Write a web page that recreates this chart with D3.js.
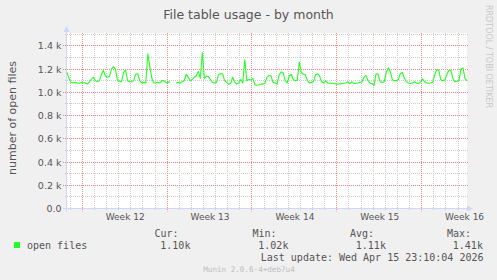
<!DOCTYPE html>
<html>
<head>
<meta charset="utf-8">
<script src="https://cdn.jsdelivr.net/npm/d3@7"></script>
<style>
   html, body { margin: 0; padding: 0; background: #f0f0f0; }
   svg { display: block; }
</style>
</head>
<body>
<div id="chart"></div>
<script>
var stepDays = 1 / 6;
var openFiles = [
   1170, 1120, 1085, 1080, 1085, 1080, 1078, 1085, 1080, 1082,
   1070, 1088, 1110, 1130, 1100, 1092, 1100, 1150, 1190, 1140,
   1130, 1135, 1200, 1220, 1200, 1100, 1095, 1090, 1170, 1190,
   1100, 1090, 1092, 1100, 1155, 1160, 1100, 1080, 1085, 1080,
   1330, 1220, 1120, 1080, 1082, 1085, 1080, 1100, 1100, 1080,
   1085, 1090, null, null, 1080, 1085, 1080, 1090, 1100, 1155,
   1130, 1100, 1110, 1130, 1140, 1180, 1120, 1340, 1120, 1140,
   1135, 1110, 1085, 1080, 1085, 1150, 1160, 1160, 1100, 1085,
   1070, 1075, 1130, 1090, 1070, 1080, 1110, 1080, 1280, 1100,
   1110, 1105, 1120, 1065, 1060, 1062, 1070, 1070, 1080, 1130,
   1145, 1140, 1085, 1080, 1070, 1150, 1175, 1170, 1100, 1080,
   1140, 1155, 1110, 1100, 1105, 1260, 1170, 1155, 1150, 1100,
   1080, 1085, 1090, 1150, 1160, 1140, 1090, 1080, 1100, 1080,
   1078, 1080, 1075, 1072, 1070, 1072, 1075, 1078, 1080, 1090,
   1075, 1090, 1075, 1078, 1080, 1085, 1090, 1130, 1145, 1100,
   1078, 1075, 1060, 1160, 1155, 1090, 1085, 1090, 1170, 1210,
   1180, 1110, 1100, 1100, 1110, 1160, 1170, 1120, 1090, 1080,
   1075, 1080, 1090, 1080, 1075, 1090, 1115, 1090, 1080, 1078,
   1080, 1085, 1150, 1195, 1190, 1110, 1100, 1105, 1150, 1190,
   1190, 1120, 1090, 1095, 1100, 1200, 1210, 1120, 1100
];

var yTickValues = [0, 200, 400, 600, 800, 1000, 1200, 1400];
var yTickLabels = ['0.0', '0.2 k', '0.4 k', '0.6 k', '0.8 k', '1.0 k', '1.2 k', '1.4 k'];

// days since the left edge of the graph where each ISO week begins
var weekStarts = [1.26, 8.26, 15.26, 22.26, 29.26];
var weekLabels = ['Week 12', 'Week 13', 'Week 14', 'Week 15', 'Week 16'];

var statNames = ['Cur:', 'Min:', 'Avg:', 'Max:'];
var statValues = ['1.10k', '1.02k', '1.11k', '1.41k'];

var width = 497,
   height = 280;
var plot = { left: 67, top: 33, width: 400, height: 175.5 };
var spanDays = 33;

var fontColor = '#555';
var axisColor = '#cfd6f8';
var lineColor = '#22ff22';
var minorColor = '#cccccc';
var majorColor = '#f08484';
var sans = 'DejaVu Sans, sans-serif';
var mono = 'DejaVu Sans Mono, monospace';

var x = d3.scaleLinear()
   .domain([0, spanDays])
   .range([plot.left, plot.left + plot.width]);

var y = d3.scaleLinear()
   .domain([0, 1510])
   .range([plot.top + plot.height, plot.top]);

function snap(v) {
   return Math.floor(v) + 0.5;
}

var svg = d3.select('#chart').append('svg')
   .attr('width', width)
   .attr('height', height);

svg.append('rect')
   .attr('width', width)
   .attr('height', height)
   .attr('fill', '#f0f0f0');

svg.append('rect')
   .attr('x', plot.left)
   .attr('y', plot.top)
   .attr('width', plot.width)
   .attr('height', plot.height)
   .attr('fill', '#ffffff');

// title and side texts
svg.append('text')
   .attr('x', 248.5)
   .attr('y', 18.5)
   .attr('text-anchor', 'middle')
   .attr('font-family', sans)
   .attr('font-size', '12.5px')
   .attr('fill', fontColor)
   .text('File table usage - by month');

svg.append('text')
   .attr('transform', 'translate(15.5,118) rotate(-90)')
   .attr('text-anchor', 'middle')
   .attr('font-family', sans)
   .attr('font-size', '11px')
   .attr('fill', fontColor)
   .text('number of open files');

svg.append('text')
   .attr('transform', 'translate(486,56.5) rotate(90)')
   .attr('text-anchor', 'middle')
   .attr('font-family', sans)
   .attr('font-size', '8px')
   .attr('fill', '#c8c8c8')
   .text('RRDTOOL / TOBI OETIKER');

// grid, dotted like rrdtool draws it (1px on, 1px off)
var grid = svg.append('g')
   .attr('stroke-width', 1)
   .attr('stroke-dasharray', '1,1');

var minorDays = d3.range(0, spanDays).map(function(d) {
   return d + 0.26;
}).filter(function(d) {
   return !weekStarts.some(function(w) { return Math.abs(w - d) < 0.01; });
});

grid.selectAll('.vminor')
   .data(minorDays)
   .enter().append('line')
   .attr('x1', function(d) { return snap(x(d)); })
   .attr('x2', function(d) { return snap(x(d)); })
   .attr('y1', plot.top)
   .attr('y2', plot.top + plot.height + 2)
   .attr('stroke', minorColor);

var minorValues = d3.range(100, 1600, 200);

grid.selectAll('.hminor')
   .data(minorValues)
   .enter().append('line')
   .attr('x1', plot.left - 2)
   .attr('x2', plot.left + plot.width + 2)
   .attr('y1', function(d) { return snap(y(d)); })
   .attr('y2', function(d) { return snap(y(d)); })
   .attr('stroke', minorColor);

grid.selectAll('.vmajor')
   .data(weekStarts)
   .enter().append('line')
   .attr('x1', function(d) { return snap(x(d)); })
   .attr('x2', function(d) { return snap(x(d)); })
   .attr('y1', plot.top)
   .attr('y2', plot.top + plot.height + 3)
   .attr('stroke', majorColor);

grid.selectAll('.hmajor')
   .data(yTickValues.slice(1))
   .enter().append('line')
   .attr('x1', plot.left - 4)
   .attr('x2', plot.left + plot.width + 2)
   .attr('y1', function(d) { return snap(y(d)); })
   .attr('y2', function(d) { return snap(y(d)); })
   .attr('stroke', majorColor);

// axes labels
var yAxis = svg.append('g')
   .attr('transform', 'translate(' + (plot.left - 0.5) + ',0)')
   .call(d3.axisLeft(y)
      .tickValues(yTickValues)
      .tickFormat(function(d, i) { return yTickLabels[i]; })
      .tickSize(0)
      .tickPadding(5));
yAxis.select('.domain').remove();
yAxis.selectAll('text')
   .attr('font-family', sans)
   .attr('font-size', '9.5px')
   .attr('fill', fontColor);

var xAxis = svg.append('g')
   .attr('transform', 'translate(0,' + (plot.top + plot.height) + ')')
   .call(d3.axisBottom(x)
      .tickValues(weekStarts.map(function(d) { return d + 3.5; }))
      .tickFormat(function(d, i) { return weekLabels[i]; })
      .tickSize(0)
      .tickPadding(5));
xAxis.select('.domain').remove();
xAxis.selectAll('text')
   .attr('font-family', sans)
   .attr('font-size', '9px')
   .attr('fill', fontColor);

// axis lines with arrows
var axisY0 = snap(y(0));
svg.append('line')
   .attr('x1', plot.left - 4)
   .attr('x2', plot.left + plot.width + 1)
   .attr('y1', axisY0)
   .attr('y2', axisY0)
   .attr('stroke', axisColor)
   .attr('shape-rendering', 'crispEdges');

svg.append('line')
   .attr('x1', plot.left - 0.5)
   .attr('x2', plot.left - 0.5)
   .attr('y1', axisY0 + 3)
   .attr('y2', plot.top - 4)
   .attr('stroke', axisColor)
   .attr('shape-rendering', 'crispEdges');

svg.append('path')
   .attr('d', 'M' + (plot.left - 3.5) + ',' + (plot.top - 1) +
      'L' + (plot.left + 2.5) + ',' + (plot.top - 1) +
      'L' + (plot.left - 0.5) + ',' + (plot.top - 7) + 'Z')
   .attr('fill', axisColor);

svg.append('path')
   .attr('d', 'M' + (plot.left + plot.width) + ',' + (axisY0 - 3) +
      'L' + (plot.left + plot.width) + ',' + (axisY0 + 3) +
      'L' + (plot.left + plot.width + 6) + ',' + axisY0 + 'Z')
   .attr('fill', axisColor);

// the series
var line = d3.line()
   .defined(function(d) { return d != null; })
   .x(function(d, i) { return x(i * stepDays); })
   .y(function(d) { return y(d); });

svg.append('path')
   .datum(openFiles)
   .attr('d', line)
   .attr('fill', 'none')
   .attr('stroke', lineColor)
   .attr('stroke-width', 1.1)
   .attr('stroke-linejoin', 'round');

// legend
svg.append('rect')
   .attr('x', 14)
   .attr('y', 242)
   .attr('width', 6)
   .attr('height', 6)
   .attr('fill', lineColor);

svg.append('text')
   .attr('x', 27)
   .attr('y', 249)
   .attr('font-family', mono)
   .attr('font-size', '10px')
   .attr('fill', fontColor)
   .text('open files');

var statX = [154.5, 252.5, 350, 447];

svg.selectAll('.stat-name')
   .data(statNames)
   .enter().append('text')
   .attr('x', function(d, i) { return statX[i]; })
   .attr('y', 237)
   .attr('font-family', mono)
   .attr('font-size', '10px')
   .attr('fill', fontColor)
   .text(function(d) { return d; });

svg.selectAll('.stat-value')
   .data(statValues)
   .enter().append('text')
   .attr('x', function(d, i) { return statX[i] + 5.8; })
   .attr('y', 249)
   .attr('font-family', mono)
   .attr('font-size', '10px')
   .attr('fill', fontColor)
   .text(function(d) { return d; });

svg.append('text')
   .attr('x', 483.5)
   .attr('y', 261)
   .attr('text-anchor', 'end')
   .attr('font-family', mono)
   .attr('font-size', '10px')
   .attr('fill', fontColor)
   .text('Last update: Wed Apr 15 23:10:04 2026');

svg.append('text')
   .attr('x', 249)
   .attr('y', 272)
   .attr('text-anchor', 'middle')
   .attr('font-family', mono)
   .attr('font-size', '7.6px')
   .attr('fill', '#bdbdbd')
   .text('Munin 2.0.6-4+deb7u4');
</script>
</body>
</html>
